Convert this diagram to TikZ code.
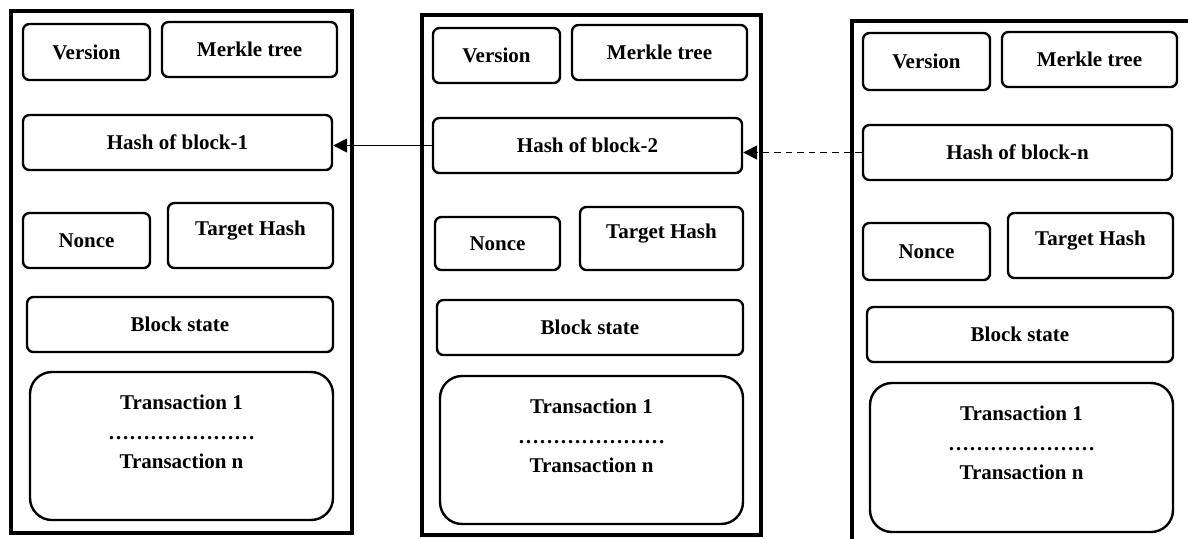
\documentclass[tikz,border=0pt]{standalone}
\usepackage{fontspec}
\setmainfont{Liberation Serif}
\usetikzlibrary{fit,arrows.meta}
\tikzset{
  blk/.style={draw, line width=2pt, inner sep=0pt},
  blkline/.style={line width=2pt},
  box/.style={draw, line width=1.2pt, rounded corners=3.2pt, inner sep=0pt},
  txbox/.style={box, rounded corners=11pt},
  lbl/.style={inner sep=0pt, font=\fontsize{10.5}{14.75}\selectfont\bfseries},
  arr/.style={line width=0.8pt, -{Triangle[length=7pt,width=7pt]}},
  darr/.style={arr, dash pattern=on 3.3pt off 2.5pt},
}
\begin{document}
\begin{tikzpicture}[x=0.5pt,y=-0.5pt]
\useasboundingbox (0,0) rectangle (1188,538);

% ---------- Block 1 ----------
\node[blk, fit={(11,11)(352,533)}] (blk1) {};
\node[box, fit={(23,24)(150,80)},   label={[lbl]center:Version}] (v1) {};
\node[box, fit={(162,22)(337,77)},  label={[lbl]center:Merkle tree}] (m1) {};
\node[box, fit={(23,115)(332,170)}, label={[lbl]center:Hash of block-1}] (h1) {};
\node[box, fit={(23,213)(150,268)}, label={[lbl]center:Nonce}] (n1) {};
\node[box, fit={(168,203)(333,268)},label={[lbl,yshift=2.5pt]center:Target Hash}] (t1) {};
\node[box, fit={(27,297)(333,352)}, label={[lbl]center:Block state}] (b1) {};
\node[txbox, fit={(30,372)(333,520)}] (x1) {};
\node[lbl, align=center, anchor=north] (x1t) at ([yshift=-12pt]x1.north)
  {Transaction 1\\…………………\\Transaction n};

% ---------- Block 2 ----------
\node[blk, fit={(422,15)(761,535)}] (blk2) {};
\node[box, fit={(433,28)(560,83)},   label={[lbl]center:Version}] (v2) {};
\node[box, fit={(572,25)(747,80)},   label={[lbl]center:Merkle tree}] (m2) {};
\node[box, fit={(433,118)(742,173)}, label={[lbl]center:Hash of block-2}] (h2) {};
\node[box, fit={(435,217)(560,270)}, label={[lbl]center:Nonce}] (n2) {};
\node[box, fit={(580,207)(743,270)}, label={[lbl,yshift=2.5pt]center:Target Hash}] (t2) {};
\node[box, fit={(437,300)(743,355)}, label={[lbl]center:Block state}] (b2) {};
\node[txbox, fit={(440,376)(743,524)}] (x2) {};
\node[lbl, align=center, anchor=north] (x2t) at ([yshift=-12pt]x2.north)
  {Transaction 1\\…………………\\Transaction n};

% ---------- Block 3 (cut off at right and bottom) ----------
\coordinate (b3tr) at (1188,21);
\coordinate (b3bl) at (852,540);
\draw[blkline] (b3tr) -- (b3tr -| b3bl) -- (b3bl);
\node[box, fit={(863,33)(990,90)},   label={[lbl]center:Version}] (v3) {};
\node[box, fit={(1002,32)(1177,87)}, label={[lbl]center:Merkle tree}] (m3) {};
\node[box, fit={(863,125)(1172,180)},label={[lbl]center:Hash of block-n}] (h3) {};
\node[box, fit={(863,223)(990,280)}, label={[lbl]center:Nonce}] (n3) {};
\node[box, fit={(1008,213)(1173,278)},label={[lbl,yshift=2.5pt]center:Target Hash}] (t3) {};
\node[box, fit={(867,307)(1173,362)}, label={[lbl]center:Block state}] (b3) {};
\node[txbox, fit={(870,383)(1173,532)}] (x3) {};
\node[lbl, align=center, anchor=north] (x3t) at ([yshift=-12pt]x3.north)
  {Transaction 1\\…………………\\Transaction n};

% ---------- Connectors ----------
\draw[arr] (h2.west) -- (h2.west -| h1.east);
\draw[darr] (h3.west) -- (h3.west -| h2.east);
\end{tikzpicture}
\end{document}
